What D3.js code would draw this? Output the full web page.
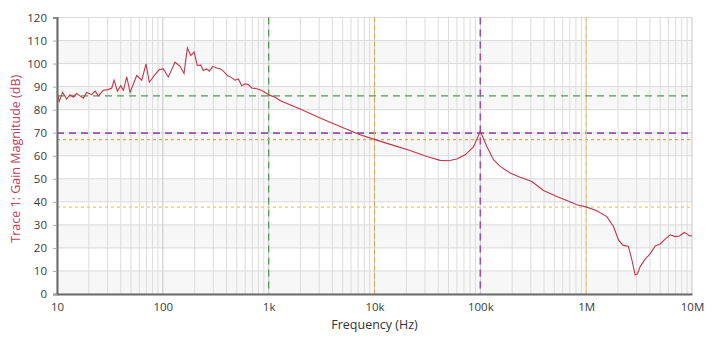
<!DOCTYPE html>
<html><head><meta charset="utf-8">
<script src="https://cdn.jsdelivr.net/npm/d3@7"></script>
<style>body{margin:0;background:#fff;}svg{display:block;font-family:"Open Sans","Noto Sans",sans-serif;}</style>
</head><body><svg id="c" width="727" height="341"></svg>
<script>
const freq = [10,10.5,11.3,12.35,13.3,14.3,15.3,16.5,17.7,19.1,21.3,22.9,24.6,27.4,30.5,32.9,34.6,37.2,40,42.4,45.6,49,56.6,63.2,69.4,74.5,84.3,92.6,101,112.7,130.4,145.5,158.6,170.5,183.6,197.3,211.9,228,241.3,260,274.9,296.2,323,347.5,373.4,407,448,481,517,557,598,643,692,772,861,960,1031,1149,1282,1377,1982,3062,4732,7313,10140,15100,21720,31200,41690,49940,59960,71830,86080,100000,115300,133100,153900,191300,237800,306700,394800,528100,656600,816300,1014000,1261000,1569000,1812000,2020000,2222000,2510000,2703000,2904000,3054000,3238000,3608000,4024000,4487000,5003000,5578000,6218000,6933000,7616000,8440000,8950000,9468000,10000000];
const gain = [88,83.6,87.5,84.6,86.5,85.4,87,86,85,87.5,86.5,88,86,88.4,88.7,89.4,92.8,88,90.4,88.4,94.2,87.5,94.8,92.8,99.9,91.9,95.2,97.4,97.7,94.2,100.6,98.8,95.7,106.8,103.5,105.1,99.1,99.4,97,97.7,96.7,98.8,98.1,97.8,96.7,94.8,93.8,92.8,93.3,90.4,91.2,90.9,89.4,89.1,88.3,87,86.2,85.4,84,83.3,80.3,76.4,72.7,69.1,67,64.5,62.3,59.7,58,57.8,58.6,60.4,63.8,70.6,64,58.3,55.4,52.5,50.7,48.8,44.9,42.3,40.6,38.7,37.7,36.1,33.6,29.3,23.5,21.2,20.6,14.8,8.3,8.7,11.9,15.1,17.4,20.9,21.7,23.8,25.7,24.9,25.2,26.7,26.1,25.2,25.3];
const xTickVals = [10,100,1000,10000,100000,1000000,10000000];
const xTickLabels = ["10","100","1k","10k","100k","1M","10M"];
const yTickVals = [0,10,20,30,40,50,60,70,80,90,100,110,120];
const bandStarts = [0,20,40,60,80,100];
// marker reference lines
const markerFreq = [1000, 100000, 10000, 1000000];
const markerGain = [86, 69.8, 67, 37.7];
const markerKind = ["green","purple","orange","orange2"];

const svg = d3.select("#c");
const L=57,R=692,T=17.5,B=294;
const x = d3.scaleLog().domain([10,1e7]).range([L,R]);
const y = d3.scaleLinear().domain([0,120]).range([B,T]);

svg.append("g").selectAll("rect").data(bandStarts).join("rect")
  .attr("x",L).attr("width",R-L).attr("y",d=>y(d+10)).attr("height",d=>y(d)-y(d+10))
  .attr("fill","#f7f7f7");

svg.append("g").selectAll("line").data(yTickVals).join("line")
  .attr("x1",L).attr("x2",R).attr("y1",d=>y(d)).attr("y2",d=>y(d))
  .attr("stroke","#dadada").attr("stroke-width",1);

const minor=[];
for(let e=1;e<7;e++) for(let m=2;m<=9;m++) minor.push(m*Math.pow(10,e));
svg.append("g").selectAll("line").data(minor).join("line")
  .attr("x1",d=>x(d)).attr("x2",d=>x(d)).attr("y1",T).attr("y2",B)
  .attr("stroke","#dcdcdc").attr("stroke-width",1);
svg.append("g").selectAll("line").data(xTickVals).join("line")
  .attr("x1",d=>x(d)).attr("x2",d=>x(d)).attr("y1",T).attr("y2",B)
  .attr("stroke","#c6c6c6").attr("stroke-width",1);

const styles = {
  green:{c:"#4f9e4f",w:1.3,d:"7,5",vd:"7,5"},
  purple:{c:"#9c4fae",w:1.6,d:"7,5",vd:"7,5"},
  orange:{c:"#e3a548",w:1.1,d:"3,3",vd:"5,3"},
  orange2:{c:"#eec866",w:1.1,d:"3,3",vd:"5,3"}
};
const mg = svg.append("g");
markerFreq.forEach((f,i)=>{
  const s=styles[markerKind[i]];
  mg.append("line").attr("x1",L).attr("x2",R).attr("y1",y(markerGain[i])).attr("y2",y(markerGain[i]))
    .attr("stroke",s.c).attr("stroke-width",s.w).attr("stroke-dasharray",s.d);
  mg.append("line").attr("x1",x(f)).attr("x2",x(f)).attr("y1",T).attr("y2",B)
    .attr("stroke",s.c).attr("stroke-width",s.w).attr("stroke-dasharray",s.vd);
});

svg.append("path").datum(freq.map((f,i)=>[f,gain[i]]))
  .attr("fill","none").attr("stroke","#c4354a").attr("stroke-width",1.1)
  .attr("d",d3.line().x(d=>x(d[0])).y(d=>y(d[1])));

const ya = svg.append("g").attr("transform",`translate(${L},0)`)
  .call(d3.axisLeft(y).tickValues(yTickVals).tickSize(4).tickPadding(6));
const xa = svg.append("g").attr("transform",`translate(0,${B})`)
  .call(d3.axisBottom(x).tickValues(xTickVals).tickFormat((d,i)=>xTickLabels[i]).tickSize(0).tickPadding(9));
[ya,xa].forEach(a=>{
  a.select(".domain").attr("stroke","#6a6a6a").attr("stroke-width",2);
  a.selectAll(".tick line").attr("stroke","#aaa");
  a.selectAll("text").attr("fill","#3a3a3a").attr("font-size","11.5px").attr("font-family","'Open Sans','Noto Sans',sans-serif");
});

svg.append("text").attr("x",(L+R)/2).attr("y",329).attr("text-anchor","middle")
  .attr("font-size","12.5px").attr("fill","#333").text("Frequency (Hz)");
svg.append("text").attr("transform",`translate(20,${(T+B)/2+3}) rotate(-90)`).attr("text-anchor","middle")
  .attr("font-size","12.5px").attr("fill","#c2405a").text("Trace 1: Gain Magnitude (dB)");
</script></body></html>
